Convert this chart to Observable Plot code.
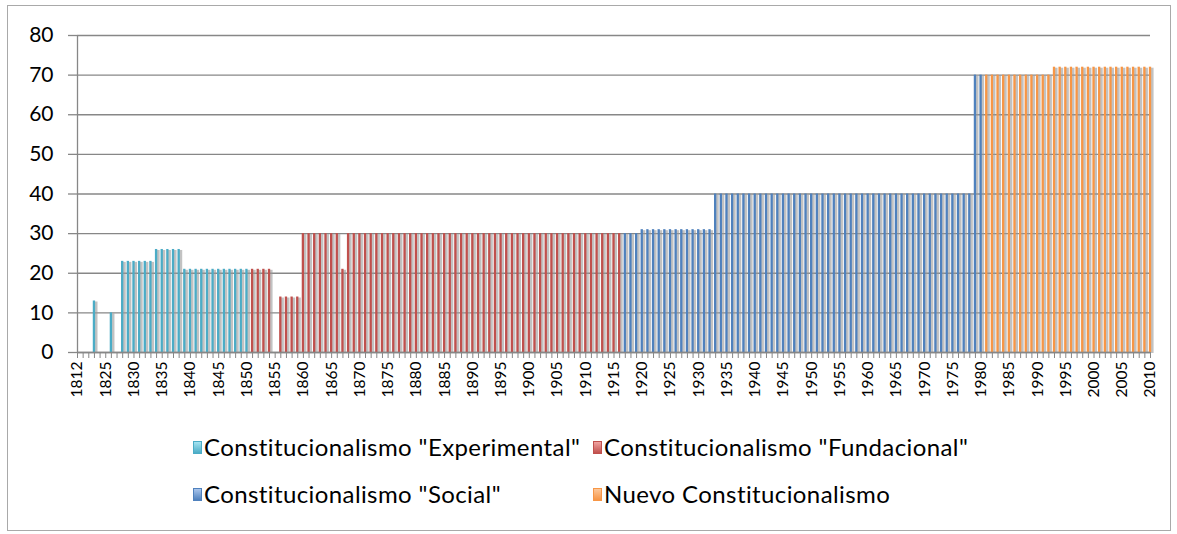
<!DOCTYPE html>
<html><head><meta charset="utf-8">
<script src="https://cdn.jsdelivr.net/npm/d3@7"></script>
<script src="https://cdn.jsdelivr.net/npm/@observablehq/plot@0.6"></script>
<style>
body{margin:0;background:#fff;font-family:Lato,sans-serif;}
#wrap{position:relative;width:1177px;height:534px;overflow:hidden;background:#fff;}
#border{position:absolute;left:7px;top:5px;width:1164px;height:526px;border:1px solid #a9a9a9;box-sizing:border-box;}
#chart{position:absolute;left:0;top:0;}
#legend{position:absolute;left:193px;top:433px;display:grid;grid-template-columns:400px auto;row-gap:19px;font-size:24px;line-height:28px;letter-spacing:0.4px;color:#000;font-family:Lato,sans-serif;}
.item{display:flex;align-items:center;white-space:nowrap;}
.sw{width:9px;height:13px;margin-right:2px;box-sizing:border-box;border:1px solid;}
</style></head>
<body><div id="wrap"><div id="border"></div><div id="chart"></div><div id="legend"></div></div>
<script>
// Categories
const years = [1812, ...d3.range(1821, 2011)];
const tickLabels = [1812,1825,1830,1835,1840,1845,1850,1855,1860,1865,1870,1875,1880,1885,1890,1895,1900,1905,1910,1915,1920,1925,1930,1935,1940,1945,1950,1955,1960,1965,1970,1975,1980,1985,1990,1995,2000,2005,2010];
const yTicks = [0,10,20,30,40,50,60,70,80];

// Series
const seriesNames = ['Constitucionalismo "Experimental"','Constitucionalismo "Fundacional"','Constitucionalismo "Social"','Nuevo Constitucionalismo'];
const seriesColors = ["#4bacc6","#c0504d","#4f81bd","#f79646"];
const seriesLight = ["#a5e3f1","#f0a3a1","#a9c5ec","#fcc79a"];
const seriesStart = [1812, 1851, 1917, 1981];

// 1812, 1821–1850
const experimental = [0, 0,0,13,0,0,10,0, 23,23,23,23,23,23, 26,26,26,26,26, 21,21,21,21,21,21,21,21,21,21,21,21];
// 1851–1916
const fundacional = [21,21,21,21, 0, 14,14,14,14, 30,30,30,30,30,30,30, 21,
  30,30,30,30,30,30,30, 30,30,30,30,30,30,30, 30,30,30,30,30,30,30, 30,30,30,30,30,30,30,
  30,30,30,30,30,30,30, 30,30,30,30,30,30,30, 30,30,30,30,30,30,30];
// 1917–1980
const social = [30,30,30, 31,31,31,31,31,31,31,31,31,31,31,31,31,
  40,40,40,40,40,40,40,40,40,40, 40,40,40,40,40,40,40,40,40,40, 40,40,40,40,40,40,40,40,40,40,
  40,40,40,40,40,40,40,40,40,40, 40,40,40,40,40,40, 70,70];
// 1981–2010
const nuevo = [70,70,70,70,70,70,70,70,70,70,70,70, 72,72,72,72,72,72,72,72,72,72,72,72,72,72,72,72,72,72];

const seriesValues = [experimental, fundacional, social, nuevo];

const rows = [];
seriesValues.forEach((vals, s) => {
  const startIdx = years.indexOf(seriesStart[s]);
  vals.forEach((v, i) => {
    if (v > 0) rows.push({year: years[startIdx + i], value: v, series: s});
  });
});

const plotLeft = 77, plotRight = 1150;
const step = (plotRight - plotLeft) / (years.length - 1);
const labelSet = new Set(tickLabels);
const gridColor = "#878787";

const chart = Plot.plot({
  width: 1177, height: 420,
  marginLeft: plotLeft, marginRight: 1177 - plotRight, marginTop: 35, marginBottom: 68,
  style: {fontFamily: "Lato, sans-serif", background: "transparent", color: "#000", overflow: "visible"},
  x: {type: "band", domain: years, range: [plotLeft - step / 2, plotRight + step / 2], paddingInner: 0.59, paddingOuter: 0.295, align: 0.5},
  y: {domain: [0, 80]},
  marks: [
    Plot.gridY(yTicks, {stroke: gridColor, strokeOpacity: 1, strokeWidth: 1.3}),
    Plot.barY(rows, {x: "year", y: "value", fill: "#9a9a9a", fillOpacity: 0.6, dx: 1, dy: 1, insetRight: -1.4}),
    ...seriesColors.map((c, s) => Plot.barY(rows.filter(r => r.series === s), {x: "year", y: "value", fill: c})),
    Plot.ruleY([0], {stroke: gridColor, strokeWidth: 1.3}),
    Plot.ruleX([years[0]], {y1: 0, y2: 80, stroke: gridColor, strokeWidth: 1.3}),
    Plot.axisY({ticks: yTicks, tickSize: 9, tickPadding: 15, fontSize: 21, stroke: gridColor, strokeWidth: 1.3, label: null}),
    Plot.axisX({ticks: years, tickSize: 6, tickPadding: 3, tickRotate: -90, fontSize: 15.5, stroke: gridColor, label: null,
      tickFormat: d => labelSet.has(d) ? String(d) : ""})
  ]
});
document.getElementById("chart").appendChild(chart);

// soft shadow
const ns = "http://www.w3.org/2000/svg";
const defs = document.createElementNS(ns, "defs");
defs.innerHTML = '<filter id="shadowBlur" x="-50%" y="-5%" width="200%" height="110%"><feGaussianBlur stdDeviation="0.6"/></filter>';
chart.insertBefore(defs, chart.firstChild);
const barGroups = chart.querySelectorAll('g[aria-label="bar"]');
if (barGroups.length) barGroups[0].setAttribute("filter", "url(#shadowBlur)");

// legend
const legend = document.getElementById("legend");
seriesNames.forEach((name, s) => {
  const item = document.createElement("div");
  item.className = "item";
  const sw = document.createElement("span");
  sw.className = "sw";
  sw.style.borderColor = seriesColors[s];
  sw.style.background = `linear-gradient(to bottom, ${seriesLight[s]}, ${seriesColors[s]})`;
  const t = document.createElement("span");
  t.textContent = name;
  item.appendChild(sw); item.appendChild(t);
  legend.appendChild(item);
});
</script>
</body></html>
